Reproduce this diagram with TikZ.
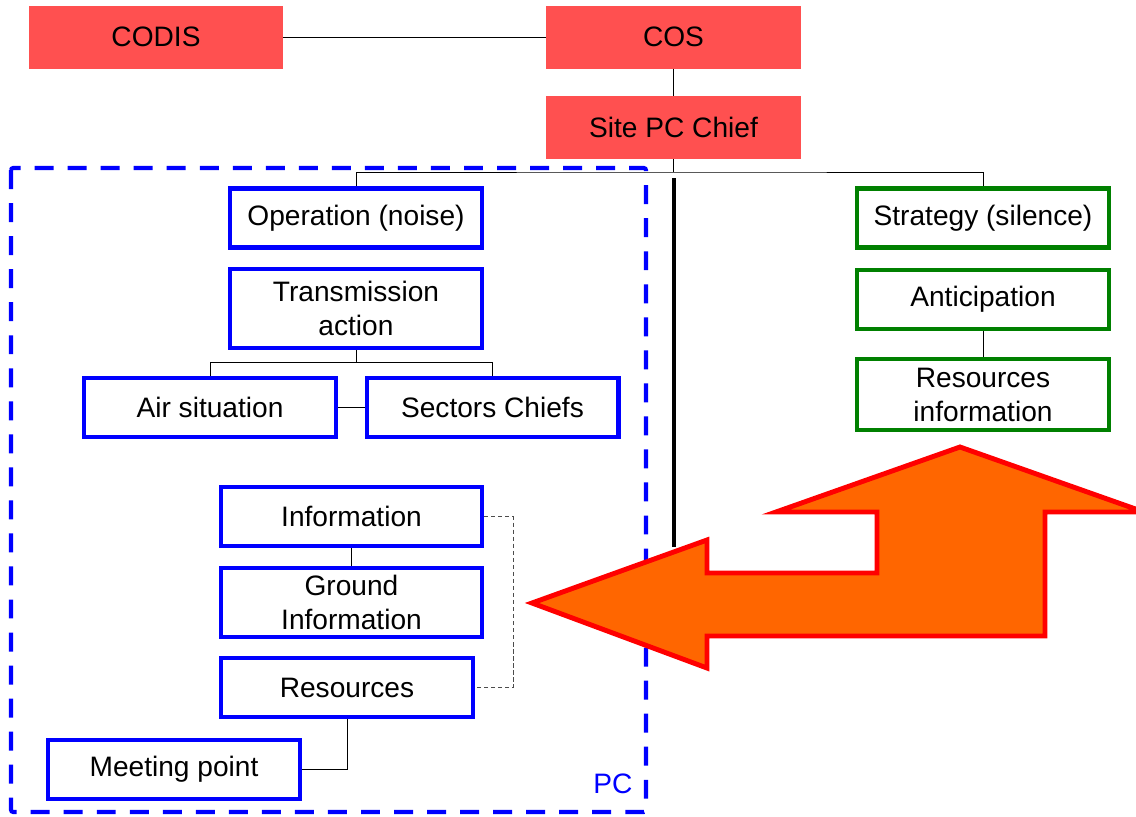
\documentclass[tikz,border=0pt]{standalone}
\usepackage{fontspec}
\setmainfont{Liberation Sans}
\definecolor{boxred}{HTML}{FF5050}
\definecolor{pcblue}{HTML}{0000FF}
\definecolor{stratgreen}{HTML}{008000}
\definecolor{arroworange}{HTML}{FF6600}
\begin{document}
\begin{tikzpicture}[x=0.02cm,y=-0.02cm]
\tikzset{
  lbl/.style={font=\fontsize{16}{19.4}\selectfont, align=center, inner sep=0pt},
  redbox/.style={lbl, fill=boxred, outer sep=0pt, minimum width=5.1cm, minimum height=1.26cm},
  bluebox/.style={lbl, draw=pcblue, line width=2.3pt, fill=white, outer sep=1.15pt,
                  minimum width=5.04cm, minimum height=1.18cm},
  greenbox/.style={lbl, draw=stratgreen, line width=2.3pt, fill=white, outer sep=1.15pt,
                   minimum width=5.04cm, minimum height=1.18cm},
  link/.style={draw=black, line width=0.5pt},
  dottedlink/.style={draw=black!70, line width=0.5pt, dash pattern=on 2.5pt off 1.5pt},
}
\useasboundingbox (0,0) rectangle (1136,816);

% command chain
\node[redbox] (codis) at (156,37) {CODIS};
\node[redbox] (cos) at (673.5,37) {COS};
\node[redbox] (site) at (673.5,127.5) {Site PC Chief};

% PC zone (dashed frame)
\draw[pcblue, line width=2.3pt, dash pattern=on 10.8pt off 8pt, rounded corners=1.2pt]
  (11,168) rectangle (646,812);
\node[lbl, text=pcblue] (pclabel) at (613,784) {PC};

% operation branch
\node[bluebox] (op) at (356,218) {Operation (noise)};
\node[bluebox, minimum height=1.58cm] (trans) at (356,308.5) {Transmission\\action};
\node[bluebox] (air) at (210,407.5) {Air situation};
\node[bluebox] (sect) at (492.5,407.5) {Sectors Chiefs};

\node[bluebox, minimum width=5.22cm] (info) at (351.5,516.5) {Information};
\node[bluebox, minimum width=5.22cm, minimum height=1.38cm] (ground) at (351.5,602.5) {Ground\\Information};
\node[bluebox] (res) at (347,687.5) {Resources};
\node[bluebox] (meet) at (174,769.5) {Meeting point};

% strategy branch
\node[greenbox] (strat) at (983,218) {Strategy (silence)};
\node[greenbox] (antic) at (983,299.5) {Anticipation};
\node[greenbox, minimum height=1.42cm] (resinfo) at (983,394.5) {Resources\\information};

% connectors
\coordinate (bus) at (673.5,172);
\coordinate (tbus) at (356,362);
\coordinate (dknee) at (513,516.5);
\draw[link] (codis.east) -- (cos.west);
\draw[link] (cos.south) -- (site.north);
\draw[link] (site.south) -- (bus);
\draw[link] (op.north) |- (bus) -| (strat.north);
\draw[link] (trans.south) -- (tbus);
\draw[link] (air.north) |- (tbus) -| (sect.north);
\draw[link] (air.east) -- (sect.west);
\draw[link] (info.south) -- (ground.north);
\draw[dottedlink] (info.east) -- (dknee) |- (res.east);
\draw[link] (res.south) |- (meet.east);
\draw[link] (antic.south) -- (resinfo.north);

% separator
\coordinate (septop) at (674,178);
\coordinate (sepbot) at (674,547);
\draw[line width=2.8pt] (septop) -- (sepbot);

% exchange arrow
\draw[draw=red, fill=arroworange, line width=2.8pt, line join=miter]
  (532,603) -- (707,540) -- (707,573) -- (877,573) -- (877,512) -- (776,512)
  -- (960,447) -- (1144,512) -- (1045,512) -- (1045,636) -- (707,636)
  -- (707,668) -- cycle;
\end{tikzpicture}
\end{document}
